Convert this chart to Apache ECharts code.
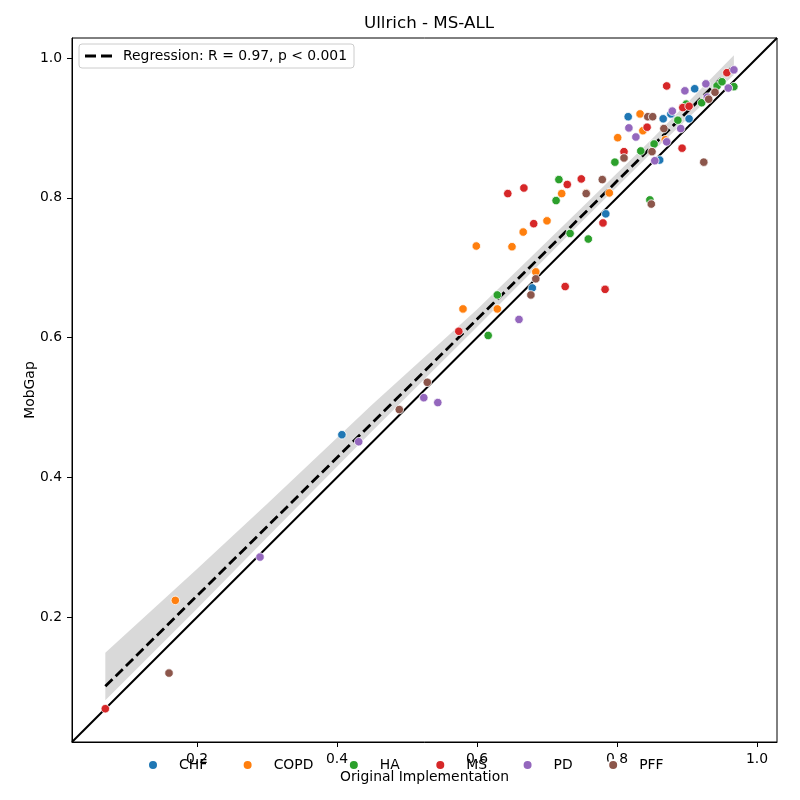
<!DOCTYPE html>
<html>
<head>
<meta charset="utf-8">
<title>Ullrich - MS-ALL</title>
<script src="https://cdn.jsdelivr.net/npm/echarts@6/dist/echarts.min.js"></script>
<style>
  html, body { margin: 0; padding: 0; background: #fff; }
  #main { width: 800px; height: 800px; }
</style>
</head>
<body>
<div id="main"></div>
<script>
// axis extent and ticks
var axisMin = 0.0214, axisMax = 1.0286;
var tickValues = [0.2, 0.4, 0.6, 0.8, 1.0];

// cohort points (x = original implementation, y = MobGap)
var chfX = [0.407, 0.679, 0.784, 0.816, 0.866, 0.861, 0.903, 0.911, 0.877];
var chfY = [0.461, 0.671, 0.777, 0.916, 0.913, 0.854, 0.913, 0.956, 0.920];

var copdX = [0.169, 0.599, 0.580, 0.629, 0.650, 0.666, 0.700, 0.684, 0.721, 0.756, 0.789, 0.801, 0.833, 0.837, 0.869];
var copdY = [0.224, 0.731, 0.641, 0.641, 0.730, 0.751, 0.767, 0.694, 0.806, 0.807, 0.807, 0.886, 0.920, 0.896, 0.883];

var haX = [0.616, 0.629, 0.713, 0.717, 0.733, 0.759, 0.797, 0.834, 0.853, 0.847, 0.887, 0.899, 0.921, 0.943, 0.950, 0.967];
var haY = [0.603, 0.661, 0.796, 0.826, 0.749, 0.741, 0.851, 0.867, 0.877, 0.797, 0.911, 0.934, 0.936, 0.960, 0.966, 0.959];

var msX = [0.069, 0.574, 0.644, 0.667, 0.681, 0.726, 0.729, 0.749, 0.780, 0.783, 0.810, 0.843, 0.871, 0.893, 0.894, 0.903, 0.957];
var msY = [0.069, 0.609, 0.806, 0.814, 0.763, 0.673, 0.819, 0.827, 0.764, 0.669, 0.866, 0.901, 0.960, 0.871, 0.929, 0.931, 0.979];

var pdX = [0.290, 0.431, 0.524, 0.544, 0.660, 0.817, 0.827, 0.854, 0.871, 0.879, 0.891, 0.897, 0.927, 0.929, 0.959, 0.967];
var pdY = [0.286, 0.451, 0.514, 0.507, 0.626, 0.900, 0.887, 0.853, 0.880, 0.924, 0.899, 0.953, 0.963, 0.944, 0.957, 0.983];

var pffX = [0.160, 0.489, 0.529, 0.677, 0.684, 0.756, 0.779, 0.810, 0.849, 0.850, 0.867, 0.844, 0.851, 0.924, 0.931, 0.940];
var pffY = [0.120, 0.497, 0.536, 0.661, 0.684, 0.806, 0.826, 0.857, 0.791, 0.866, 0.899, 0.916, 0.916, 0.851, 0.941, 0.951];

// regression fit and its confidence band
var regLabel = 'Regression: R = 0.97, p < 0.001';
var regX = [0.069, 0.967];
var regY = [0.101, 0.989];
var bandX  = [0.069, 0.2,   0.3,   0.45,  0.6,   0.75,  0.85,  0.967];
var bandHi = [0.149, 0.269, 0.362, 0.504, 0.640, 0.786, 0.884, 1.004];
var bandLo = [0.081, 0.212, 0.314, 0.466, 0.615, 0.766, 0.865, 0.976];

var groups = ['CHF', 'COPD', 'HA', 'MS', 'PD', 'PFF'];
var groupX = [chfX, copdX, haX, msX, pdX, pffX];
var groupY = [chfY, copdY, haY, msY, pdY, pffY];
var colors = ['#1f77b4', '#ff7f0e', '#2ca02c', '#d62728', '#9467bd', '#8c564b'];

var font = 'DejaVu Sans';

function zip(xs, ys) {
    var out = [];
    for (var i = 0; i < xs.length; i++) out.push([xs[i], ys[i]]);
    return out;
}

var chart = echarts.init(document.getElementById('main'), null, {renderer: 'canvas'});

var series = [
    // confidence band
    {
        type: 'custom',
        name: 'band',
        z: 1,
        silent: true,
        data: [[bandX[0], bandLo[0]]],
        renderItem: function (params, api) {
            var pts = [];
            for (var i = 0; i < bandX.length; i++) pts.push(api.coord([bandX[i], bandHi[i]]));
            for (var j = bandX.length - 1; j >= 0; j--) pts.push(api.coord([bandX[j], bandLo[j]]));
            return {type: 'polygon', shape: {points: pts}, style: {fill: '#d9d9d9'}};
        }
    },
    // identity line
    {
        type: 'line',
        name: 'identity',
        z: 2,
        silent: true,
        symbol: 'none',
        data: [[axisMin, axisMin], [axisMax, axisMax]],
        lineStyle: {color: '#000', width: 2}
    },
    // regression line
    {
        type: 'line',
        name: regLabel,
        z: 3,
        silent: true,
        symbol: 'none',
        data: zip(regX, regY),
        itemStyle: {color: '#000'},
        lineStyle: {color: '#000', width: 2.8, type: [10, 4.5]}
    }
];

groups.forEach(function (g, i) {
    series.push({
        type: 'scatter',
        name: g,
        z: 5,
        symbolSize: 8.5,
        data: zip(groupX[i], groupY[i]),
        itemStyle: {color: colors[i], borderColor: '#fff', borderWidth: 0.8, opacity: 1}
    });
});

var option = {
    animation: false,
    backgroundColor: '#fff',
    title: {
        text: 'Ullrich - MS-ALL',
        left: 424, top: 10,
        textAlign: 'center',
        textStyle: {fontFamily: font, fontSize: 16.7, fontWeight: 'normal', color: '#000'}
    },
    legend: [
        {
            data: groups,
            orient: 'horizontal',
            left: 142, top: 753,
            itemWidth: 42, itemHeight: 10,
            itemGap: 34.5,
            icon: 'circle',
            textStyle: {fontFamily: font, fontSize: 13.9, color: '#000'}
        },
        {
            data: [{
                name: regLabel,
                icon: 'path://M0,0 H11 V3 H0 Z M16,0 H27 V3 H16 Z'
            }],
            left: 79, top: 44,
            padding: [5, 7, 5, 6],
            itemWidth: 27, itemHeight: 3,
            backgroundColor: 'rgba(255,255,255,0.8)',
            borderColor: '#cccccc', borderWidth: 1, borderRadius: 3,
            itemStyle: {color: '#000'},
            lineStyle: {width: 0},
            textStyle: {fontFamily: font, fontSize: 13.9, color: '#000', padding: [0, 0, 0, 6]}
        }
    ],
    grid: {
        left: 72, right: 23, top: 38, bottom: 58,
        show: true, borderColor: '#000', borderWidth: 1,
        containLabel: false
    },
    xAxis: {
        type: 'value',
        min: axisMin, max: axisMax,
        name: 'Original Implementation',
        nameLocation: 'middle', nameGap: 28,
        nameMoveOverlap: false,
        nameTextStyle: {fontFamily: font, fontSize: 13.9, color: '#000'},
        splitLine: {show: false},
        axisLine: {show: true, lineStyle: {color: '#000', width: 1}},
        axisTick: {show: true, inside: false, length: 5, lineStyle: {color: '#000'}, customValues: tickValues},
        axisLabel: {
            customValues: tickValues, margin: 10,
            fontFamily: font, fontSize: 13.9, color: '#000',
            formatter: function (v) { return v.toFixed(1); }
        }
    },
    yAxis: {
        type: 'value',
        min: axisMin, max: axisMax,
        name: 'MobGap',
        nameLocation: 'middle', nameGap: 35,
        nameMoveOverlap: false,
        nameTextStyle: {fontFamily: font, fontSize: 13.9, color: '#000'},
        splitLine: {show: false},
        axisLine: {show: true, lineStyle: {color: '#000', width: 1}},
        axisTick: {show: true, inside: false, length: 5, lineStyle: {color: '#000'}, customValues: tickValues},
        axisLabel: {
            customValues: tickValues, margin: 10,
            fontFamily: font, fontSize: 13.9, color: '#000',
            formatter: function (v) { return v.toFixed(1); }
        }
    },
    series: series
};

chart.setOption(option);
</script>
</body>
</html>
